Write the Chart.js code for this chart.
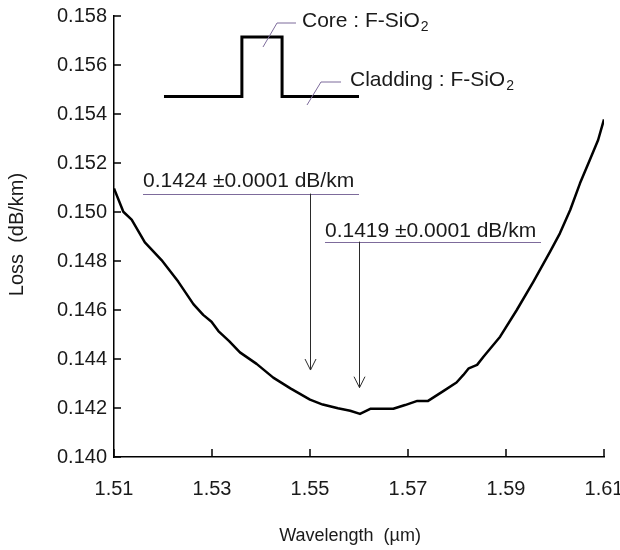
<!DOCTYPE html>
<html><head><meta charset="utf-8">
<script src="https://cdn.jsdelivr.net/npm/chart.js@4/dist/chart.umd.min.js"></script>
<style>html,body{margin:0;padding:0;background:#fff}#wrap{width:620px;height:550px}</style>
</head><body><div id="wrap"><canvas id="c" width="620" height="550"></canvas></div>
<script>
// ---- data ----
const wavelength = [1.5100,1.5116,1.5119,1.5136,1.5163,1.5197,1.5231,1.5262,1.5282,1.5299,1.5313,1.5335,1.5357,1.5391,1.5425,1.5460,1.5500,1.5526,1.5557,1.5582,1.5602,1.5624,1.5670,1.5694,1.5719,1.5741,1.5772,1.5799,1.5813,1.5824,1.5841,1.5854,1.5888,1.5922,1.5956,1.5990,1.6010,1.6031,1.6051,1.6071,1.6088,1.6100];
const loss = [0.15096,0.15016,0.15001,0.14969,0.14876,0.14804,0.14716,0.14624,0.14580,0.14552,0.14514,0.14473,0.14427,0.14380,0.14324,0.14280,0.14234,0.14214,0.14199,0.14189,0.14176,0.14197,0.14197,0.14212,0.14229,0.14229,0.14269,0.14304,0.14335,0.14362,0.14376,0.14409,0.14491,0.14600,0.14716,0.14838,0.14913,0.15008,0.15117,0.15212,0.15294,0.15378];
const xTicks = [1.51,1.53,1.55,1.57,1.59,1.61];
const yTicks = [0.140,0.142,0.144,0.146,0.148,0.150,0.152,0.154,0.156,0.158];
// refractive-index profile sketch (inset)
const profileX = [1.5202,1.5361,1.5361,1.5443,1.5443,1.5600];
const profileY = [0.15471,0.15471,0.15714,0.15714,0.15471,0.15471];
// annotated minimum losses
const annotText = ['0.1424 \u00B10.0001 dB/km','0.1419 \u00B10.0001 dB/km'];
const annotWavelength = [1.55,1.56];
const xTitle = 'Wavelength  (\u00B5m)';
const yTitle = 'Loss  (dB/km)';

// ---- layout of annotations (data coordinates) ----
const annotLayout = [
  {textX:1.51592, baseY:0.151033, lineY:0.15075, lineX2:1.56, tipY:0.14355},
  {textX:1.55306, baseY:0.148967, lineY:0.14879, lineX2:1.59714, tipY:0.14283}
];
const insetLabels = [
  {main:'Core : F-SiO', sub:'2', x:1.54837, y:0.157539, leader:[[1.54041,0.156735],[1.54327,0.157714],[1.54714,0.157714]]},
  {main:'Cladding : F-SiO', sub:'2', x:1.55816, y:0.155143, leader:[[1.54939,0.154367],[1.55224,0.155306],[1.55633,0.155306]]}
];

const FONT = "'Liberation Sans', Arial, sans-serif";
const pts = wavelength.map((w,i)=>({x:w,y:loss[i]}));
const prof = profileX.map((w,i)=>({x:w,y:profileY[i]}));

const decor = {
  id:'decor',
  afterDraw(chart){
    const ctx = chart.ctx, xs = chart.scales.x, ys = chart.scales.y, ca = chart.chartArea;
    const X = v=>xs.getPixelForValue(v), Y = v=>ys.getPixelForValue(v);
    ctx.save();
    // inward tick marks
    ctx.strokeStyle = '#000'; ctx.lineWidth = 1.5;
    xTicks.forEach(v=>{ const p=Math.round(X(v)); ctx.beginPath(); ctx.moveTo(p, ca.bottom); ctx.lineTo(p, ca.bottom-8); ctx.stroke(); });
    yTicks.forEach(v=>{ const p=Math.round(Y(v)); ctx.beginPath(); ctx.moveTo(ca.left, p); ctx.lineTo(ca.left+7, p); ctx.stroke(); });
    // annotations
    annotLayout.forEach((a,i)=>{
      ctx.fillStyle = '#1a1a1a'; ctx.font = '21px '+FONT; ctx.textAlign='left'; ctx.textBaseline='alphabetic';
      ctx.fillText(annotText[i], X(a.textX), Y(a.baseY));
      ctx.strokeStyle = '#7d6b9b'; ctx.lineWidth = 1;
      ctx.beginPath(); ctx.moveTo(X(a.textX), Math.round(Y(a.lineY))+0.5); ctx.lineTo(X(a.lineX2), Math.round(Y(a.lineY))+0.5); ctx.stroke();
      const ax = Math.round(X(annotWavelength[i]))+0.5, tip = Y(a.tipY);
      ctx.strokeStyle = '#2a2a2a'; ctx.lineWidth = 1;
      ctx.beginPath(); ctx.moveTo(ax, Y(a.lineY)); ctx.lineTo(ax, tip); ctx.stroke();
      ctx.beginPath(); ctx.moveTo(ax-5.5, tip-11); ctx.lineTo(ax, tip); ctx.lineTo(ax+5.5, tip-11); ctx.stroke();
    });
    // inset labels
    insetLabels.forEach(l=>{
      ctx.strokeStyle = '#7d6b9b'; ctx.lineWidth = 1;
      ctx.beginPath(); l.leader.forEach((p,j)=>{ const px=X(p[0]), py=Y(p[1]); j?ctx.lineTo(px,py):ctx.moveTo(px,py); }); ctx.stroke();
      ctx.fillStyle = '#1a1a1a'; ctx.font = '21px '+FONT; ctx.textAlign='left'; ctx.textBaseline='alphabetic';
      const x0 = X(l.x), y0 = Y(l.y);
      ctx.fillText(l.main, x0, y0);
      const w = ctx.measureText(l.main).width;
      ctx.font = '14px '+FONT; ctx.fillText(l.sub, x0+w+1, y0+4);
    });
    // axis titles
    ctx.fillStyle = '#1a1a1a'; ctx.textAlign='center'; ctx.textBaseline='middle';
    ctx.font = '18px '+FONT;
    ctx.fillText(xTitle, 350, 536);
    ctx.font = '20px '+FONT;
    ctx.translate(17, (ca.top+ca.bottom)/2 - 2); ctx.rotate(-Math.PI/2);
    ctx.fillText(yTitle, 0, 0);
    ctx.restore();
  }
};

new Chart(document.getElementById('c'), {
  type:'line',
  data:{datasets:[
    {data:pts, borderColor:'#000', borderWidth:2.5, pointRadius:0, tension:0, fill:false, borderJoinStyle:'round'},
    {data:prof, borderColor:'#000', borderWidth:3, pointRadius:0, tension:0, fill:false, borderJoinStyle:'miter'}
  ]},
  options:{
    responsive:false, animation:false, devicePixelRatio:1,
    layout:{padding:{top:16,right:16,left:0,bottom:0}},
    plugins:{legend:{display:false}, tooltip:{enabled:false}},
    scales:{
      x:{type:'linear', min:1.51, max:1.61,
        grid:{display:false, drawTicks:false},
        border:{display:true, color:'#000', width:1.5},
        afterBuildTicks:s=>{ s.ticks = xTicks.map(v=>({value:v})); },
        afterFit:s=>{ s.height = 93; s.paddingLeft = 0; s.paddingRight = 0; },
        ticks:{padding:20, color:'#1a1a1a', font:{family:FONT, size:20}, maxRotation:0, autoSkip:false, callback:v=>Number(v).toFixed(2)}
      },
      y:{type:'linear', min:0.140, max:0.158,
        grid:{display:false, drawTicks:false},
        border:{display:true, color:'#000', width:1.5},
        afterBuildTicks:s=>{ s.ticks = yTicks.map(v=>({value:v})); },
        afterFit:s=>{ s.width = 114; s.paddingTop = 0; s.paddingBottom = 0; },
        ticks:{padding:7, color:'#1a1a1a', font:{family:FONT, size:20}, autoSkip:false, callback:v=>Number(v).toFixed(3)}
      }
    }
  },
  plugins:[decor]
});
</script></body></html>
